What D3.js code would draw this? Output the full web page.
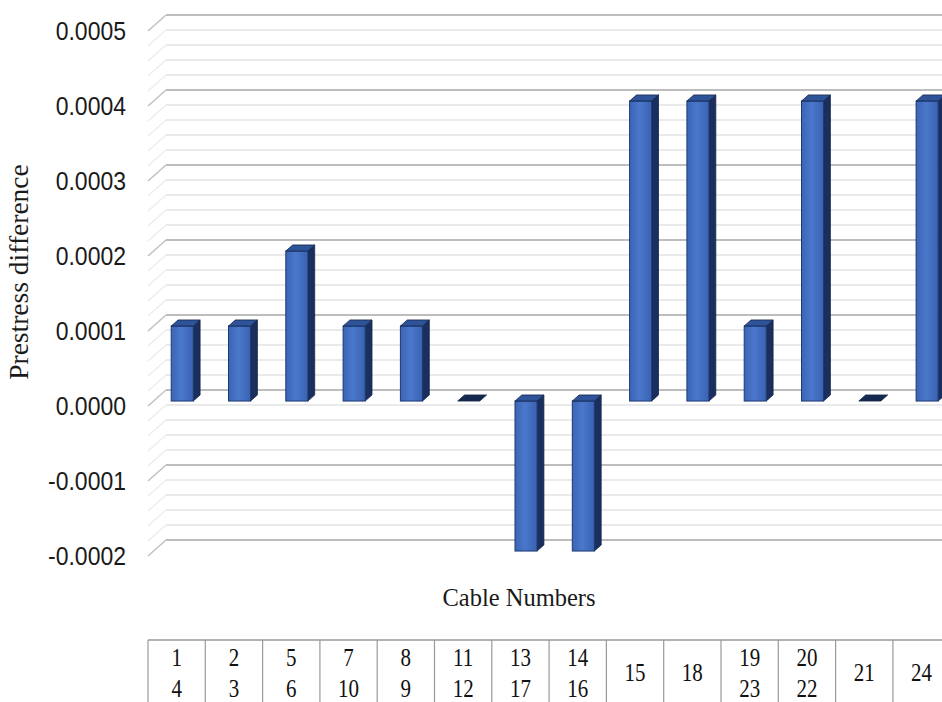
<!DOCTYPE html>
<html>
<head>
<meta charset="utf-8">
<script src="https://cdn.jsdelivr.net/npm/d3@7"></script>
<style>
  html, body { margin: 0; padding: 0; background: #ffffff; }
  svg { display: block; }
</style>
</head>
<body>
<svg id="chart" width="942" height="702"></svg>
<script>
// Cable pairs shown in the table under the chart (top line / bottom line)
const cableTop    = ["1", "2", "5", "7", "8", "11", "13", "14", "15", "18", "19", "20", "21", "24"];
const cableBottom = ["4", "3", "6", "10", "9", "12", "17", "16", "", "", "23", "22", "", ""];
// Prestress difference per cable group
const prestressDiff = [0.0001, 0.0001, 0.0002, 0.0001, 0.0001, 0.0000, -0.0002, -0.0002,
                       0.0004, 0.0004, 0.0001, 0.0004, 0.0000, 0.0004];
// Value axis ticks
const yTickValues = [-0.0002, -0.0001, 0.0000, 0.0001, 0.0002, 0.0003, 0.0004, 0.0005];
const yTickLabels = ["-0.0002", "-0.0001", "0.0000", "0.0001", "0.0002", "0.0003", "0.0004", "0.0005"];
const yMinorStep = 0.00002;

const svg = d3.select("#chart");
const W = 942, H = 702;

// Front plane geometry of the 3-D box
const left = 148, colW = 57.3;
const depthX = 18, depthY = -16;      // offset from the front edge to the back wall
const keys = cableTop.map((t, i) => t + "/" + cableBottom[i]);

const x = d3.scaleBand()
  .domain(keys)
  .range([left, left + colW * keys.length])
  .paddingInner(0.615)
  .paddingOuter(0.3075);

const yFront = d3.scaleLinear().domain([-0.0002, 0.0005]).range([556, 31]);
// A plane at relative depth d (0 = front edge, 1 = back wall)
const yAt = (v, d) => yFront(v) + depthY * d;
const xOff = d => depthX * d;

// ---- gridlines on the back wall and side wall ----
const grid = svg.append("g");
const gridVals = d3.range(-0.0002, 0.0005 + 1e-9, yMinorStep).map(v => +v.toFixed(6));
const isMajor = v => Math.abs(Math.round(v / 0.0001) * 0.0001 - v) < 1e-9;

gridVals.forEach(v => {
  const major = isMajor(v);
  grid.append("line")
    .attr("x1", left + depthX).attr("x2", W)
    .attr("y1", yAt(v, 1)).attr("y2", yAt(v, 1))
    .attr("stroke", major ? "#bdbdbd" : "#e3e3e3")
    .attr("stroke-width", major ? 2 : 1.6);
  grid.append("line")
    .attr("x1", left).attr("x2", left + depthX)
    .attr("y1", yAt(v, 0)).attr("y2", yAt(v, 1))
    .attr("stroke", major ? "#c4c4c4" : "#ececec")
    .attr("stroke-width", major ? 1.6 : 1.3);
});

// ---- value axis labels ----
const yAxis = d3.axisLeft(yFront)
  .tickValues(yTickValues)
  .tickFormat((d, i) => yTickLabels[i])
  .tickSize(0)
  .tickPadding(22);

const axisG = svg.append("g")
  .attr("transform", `translate(${left},0)`)
  .call(yAxis);
axisG.select(".domain").remove();
axisG.selectAll("text")
  .attr("fill", "#1a1a1a")
  .attr("transform", "scale(1,1.1)")
  .style("font-family", "'Liberation Sans', Arial, sans-serif")
  .style("font-size", "23px");

// ---- 3-D columns ----
const defs = svg.append("defs");
const frontGrad = defs.append("linearGradient").attr("id", "frontGrad")
  .attr("x1", "0").attr("x2", "1").attr("y1", "0").attr("y2", "0");
frontGrad.append("stop").attr("offset", "0").attr("stop-color", "#3c64b4");
frontGrad.append("stop").attr("offset", "0.45").attr("stop-color", "#4a78cc");
frontGrad.append("stop").attr("offset", "1").attr("stop-color", "#3a62b2");

const dFront = 0.31, dBack = 0.69;
const capDX = xOff(dBack) - xOff(dFront);
const capDY = depthY * (dBack - dFront);
const bw = x.bandwidth();

const bars = svg.append("g");
keys.forEach((k, i) => {
  const v = prestressDiff[i];
  const x0 = x(k) + xOff(dFront);
  const x1 = x0 + bw;
  const yTop = yAt(Math.max(v, 0), dFront);
  const yBot = yAt(Math.min(v, 0), dFront);
  const g = bars.append("g");

  if (yBot - yTop > 0.5) {
    // right side face
    g.append("path")
      .attr("d", `M${x1},${yTop} L${x1 + capDX},${yTop + capDY} L${x1 + capDX},${yBot + capDY} L${x1},${yBot} Z`)
      .attr("fill", "#1a2f5e").attr("stroke", "#14254a").attr("stroke-width", 0.8);
    // front face
    g.append("rect")
      .attr("x", x0).attr("y", yTop)
      .attr("width", bw).attr("height", yBot - yTop)
      .attr("fill", "url(#frontGrad)")
      .attr("stroke", "#1f3a72").attr("stroke-width", 1);
  }
  // top face
  g.append("path")
    .attr("d", `M${x0},${yTop} L${x0 + capDX},${yTop + capDY} L${x1 + capDX},${yTop + capDY} L${x1},${yTop} Z`)
    .attr("fill", yBot - yTop > 0.5 ? "#2e5398" : "#15294f")
    .attr("stroke", "#14254a").attr("stroke-width", 0.8);
});

// ---- axis titles ----
svg.append("text")
  .attr("x", 519).attr("y", 606)
  .attr("text-anchor", "middle")
  .attr("fill", "#1a1a1a")
  .style("font-family", "'Liberation Serif', 'Times New Roman', serif")
  .style("font-size", "24.5px")
  .text("Cable Numbers");

svg.append("text")
  .attr("transform", "translate(28,272) rotate(-90)")
  .attr("text-anchor", "middle")
  .attr("fill", "#1a1a1a")
  .style("font-family", "'Liberation Serif', 'Times New Roman', serif")
  .style("font-size", "27.5px")
  .text("Prestress difference");

// ---- cable number table ----
const tableTop = 640;
const table = svg.append("g");
table.append("line")
  .attr("x1", left).attr("x2", W)
  .attr("y1", tableTop).attr("y2", tableTop)
  .attr("stroke", "#9a9a9a").attr("stroke-width", 1.5);
d3.range(keys.length + 1).forEach(i => {
  const xx = left + i * colW;
  table.append("line")
    .attr("x1", xx).attr("x2", xx)
    .attr("y1", tableTop).attr("y2", H)
    .attr("stroke", "#9a9a9a").attr("stroke-width", 1.2);
});
keys.forEach((k, i) => {
  const cx = left + (i + 0.5) * colW;
  const lines = cableBottom[i] ? [cableTop[i], cableBottom[i]] : [cableTop[i]];
  const ys = lines.length === 2 ? [666, 697] : [681];
  lines.forEach((t, j) => {
    table.append("text")
      .attr("transform", `translate(${cx},${ys[j]}) scale(1,1.15)`)
      .attr("text-anchor", "middle")
      .attr("fill", "#111")
      .style("font-family", "'Liberation Serif', 'Times New Roman', serif")
      .style("font-size", "21px")
      .text(t);
  });
});
</script>
</body>
</html>
